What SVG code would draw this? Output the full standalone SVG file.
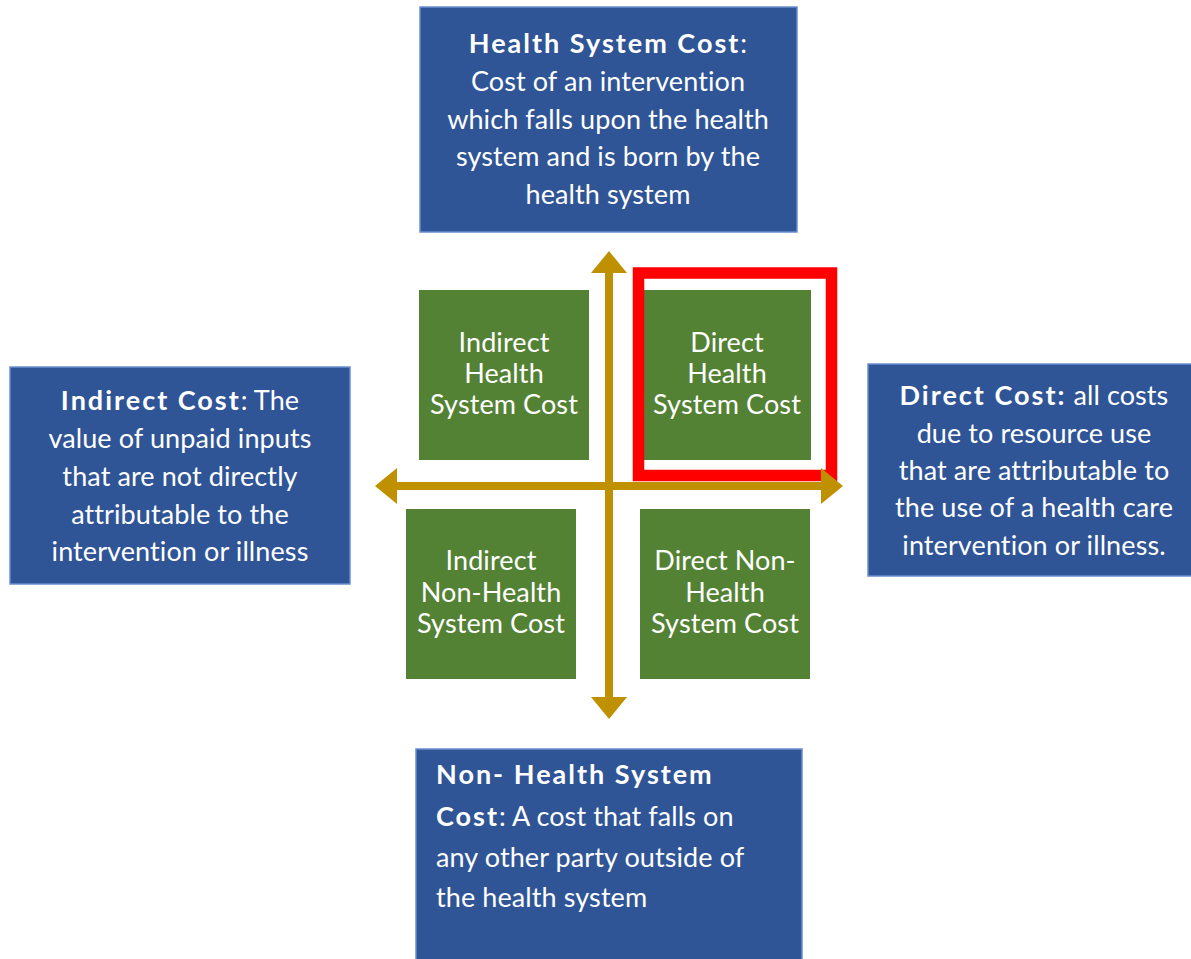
<svg xmlns="http://www.w3.org/2000/svg" width="1191" height="959" viewBox="0 0 1191 959">
  <defs>
    <style>
      .blue { fill: #2f5597; stroke: #6a8fd0; stroke-width: 1.5; }
      .green { fill: #548235; }
      .t { font-family: "Lato", "Liberation Sans", sans-serif; font-size: 27px; letter-spacing: 0.1px; fill: #ffffff; }
      .c { text-anchor: middle; }
      .b { font-weight: bold; letter-spacing: 2px; }
      .axis { stroke: #bf9000; stroke-width: 8; fill: none; }
      .head { fill: #bf9000; }
      .hl { fill: none; stroke: #ff0000; stroke-width: 11.5; }
    </style>
  </defs>

  <rect width="1191" height="959" fill="#ffffff"/>

  <!-- outer definition boxes -->
  <g id="health-system-cost">
    <rect class="blue" x="420" y="7" width="377" height="225"/>
    <text class="t c" x="608" y="53"><tspan class="b">Health System Cost</tspan>:</text>
    <text class="t c" x="608" y="91">Cost of an intervention</text>
    <text class="t c" x="608" y="129">which falls upon the health</text>
    <text class="t c" x="608" y="166">system and is born by the</text>
    <text class="t c" x="608" y="204">health system</text>
  </g>

  <g id="indirect-cost">
    <rect class="blue" x="10" y="367" width="340" height="217"/>
    <text class="t c" x="180" y="410"><tspan class="b">Indirect Cost</tspan>: The</text>
    <text class="t c" x="180" y="448">value of unpaid inputs</text>
    <text class="t c" x="180" y="486">that are not directly</text>
    <text class="t c" x="180" y="524">attributable to the</text>
    <text class="t c" x="180" y="561">intervention or illness</text>
  </g>

  <g id="direct-cost">
    <rect class="blue" x="868" y="364" width="330" height="212"/>
    <text class="t c" x="1034" y="405"><tspan class="b">Direct Cost:</tspan> all costs</text>
    <text class="t c" x="1034" y="443">due to resource use</text>
    <text class="t c" x="1034" y="480">that are attributable to</text>
    <text class="t c" x="1034" y="517">the use of a health care</text>
    <text class="t c" x="1034" y="555">intervention or illness.</text>
  </g>

  <g id="non-health-system-cost">
    <rect class="blue" x="416" y="749" width="386" height="220"/>
    <text class="t b" x="436" y="784">Non- Health System</text>
    <text class="t" x="436" y="826"><tspan class="b">Cost</tspan>: A cost that falls on</text>
    <text class="t" x="436" y="867">any other party outside of</text>
    <text class="t" x="436" y="907">the health system</text>
  </g>

  <!-- quadrant boxes -->
  <g id="indirect-health-system-cost">
    <rect class="green" x="419" y="290" width="170" height="170"/>
    <text class="t c" x="504" y="352">Indirect</text>
    <text class="t c" x="504" y="383">Health</text>
    <text class="t c" x="504" y="414">System Cost</text>
  </g>

  <g id="direct-health-system-cost">
    <rect class="green" x="644" y="290" width="167" height="170"/>
    <text class="t c" x="727" y="352">Direct</text>
    <text class="t c" x="727" y="383">Health</text>
    <text class="t c" x="727" y="414">System Cost</text>
  </g>

  <g id="indirect-non-health-system-cost">
    <rect class="green" x="406" y="509" width="170" height="170"/>
    <text class="t c" x="491" y="570">Indirect</text>
    <text class="t c" x="491" y="602">Non-Health</text>
    <text class="t c" x="491" y="633">System Cost</text>
  </g>

  <g id="direct-non-health-system-cost">
    <rect class="green" x="640" y="509" width="170" height="170"/>
    <text class="t c" x="725" y="570">Direct Non-</text>
    <text class="t c" x="725" y="602">Health</text>
    <text class="t c" x="725" y="633">System Cost</text>
  </g>

  <!-- highlight frame -->
  <g id="highlight">
    <rect class="hl" x="638.5" y="273" width="193" height="202.5"/>
  </g>

  <!-- axes -->
  <g id="connectors">
    <line class="axis" x1="609" y1="270" x2="609" y2="700"/>
    <line class="axis" x1="394" y1="486" x2="825" y2="486"/>
    <polygon class="head" points="609,251 627,273 591,273"/>
    <polygon class="head" points="609,719 627,697 591,697"/>
    <polygon class="head" points="375,486 397,468 397,504"/>
    <polygon class="head" points="843,486 821,468 821,504"/>
  </g>
</svg>
